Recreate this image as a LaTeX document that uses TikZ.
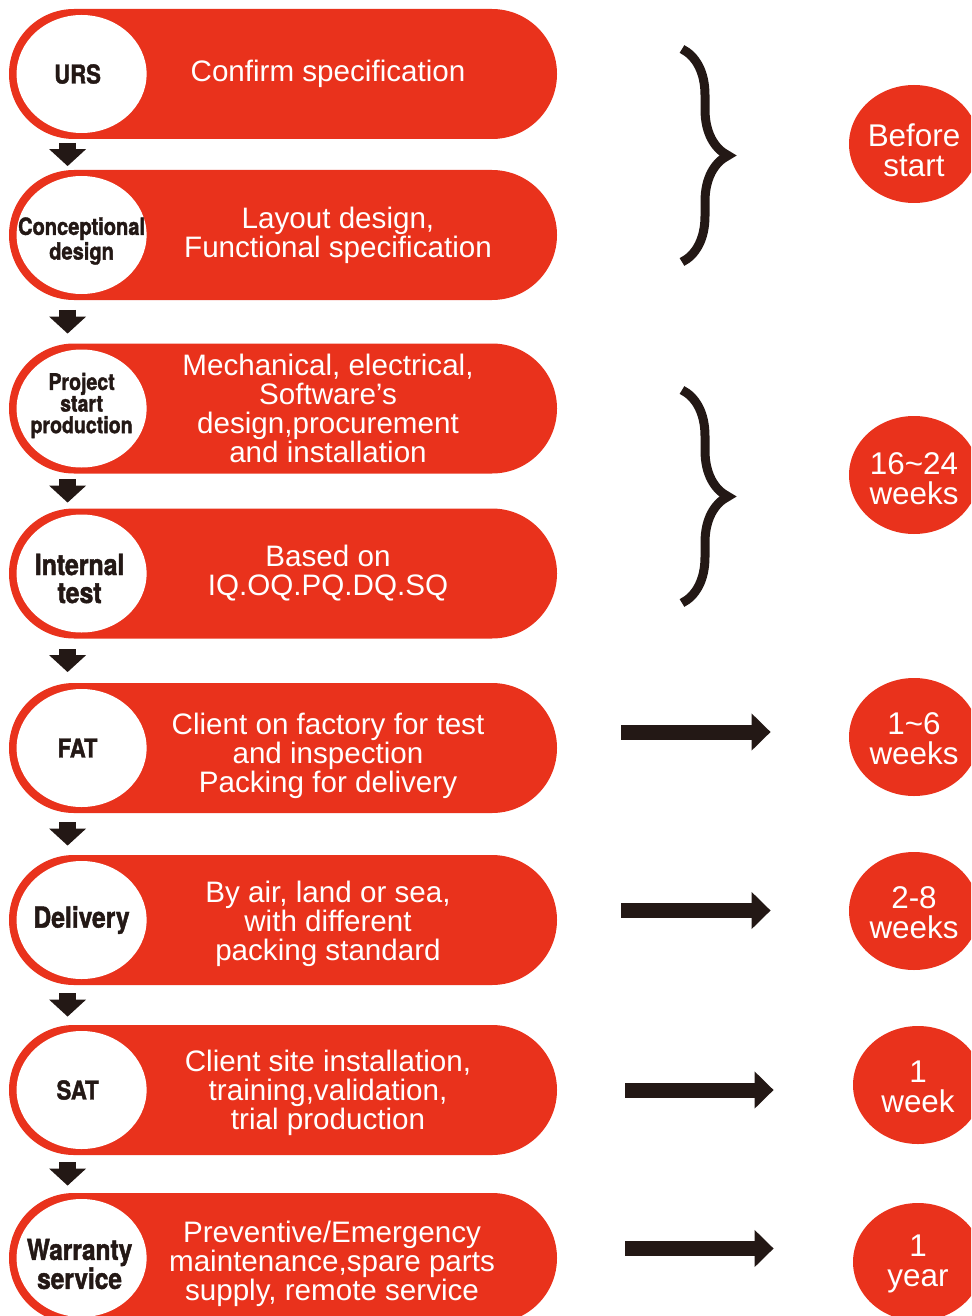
\documentclass[tikz,border=0pt]{standalone}
\usepackage{fontspec}
\setmainfont{Liberation Sans}
\newfontfamily\lblfont{TeX Gyre Heros}[FakeStretch=0.85,FakeBold=1.5]
\usetikzlibrary{positioning,shapes.misc,shapes.geometric,arrows.meta,decorations.pathreplacing}
\definecolor{urred}{RGB}{233,50,28}
\definecolor{ink}{RGB}{35,24,21}

\begin{document}
\begin{tikzpicture}[x=0.5pt,y=-0.5pt,on grid,
  pill/.style={rounded rectangle,fill=urred,minimum width=274pt,minimum height=65pt,inner sep=0pt},
  badge/.style={ellipse,fill=white,minimum width=65pt,minimum height=59pt,inner sep=0pt},
  lbl/.style 2 args={text=ink,align=center,inner sep=0pt,font=\lblfont\bfseries\fontsize{#1}{#2}\selectfont},
  desc/.style={text=white,align=center,font=\fontsize{14.8}{14.5}\selectfont},
  span/.style={ellipse,fill=urred,minimum width=65pt,minimum height=59pt,inner sep=0pt},
  spantext/.style={text=white,align=center,inner sep=0pt,font=\fontsize{15.7}{15}\selectfont},
  godown/.style={draw=ink,line width=8.5pt,-{Triangle[width=18pt,length=8.5pt]},shorten <=#1,shorten >=#1},
  goright/.style={draw=ink,line width=7.5pt,-{Triangle[width=18pt,length=9.5pt]}},
  curly/.style={draw=ink,line width=4.5pt,decorate,decoration={brace,amplitude=23pt}}]
 \path[use as bounding box] (0,0) rectangle (971,1316);
 \clip (0,0) rectangle (971,1316);

 % steps
 \node[pill] (P1) at (283,74) {};
 \node[pill] (P2) [below=80.5pt of P1] {};
 \node[pill] (P3) [below=86.75pt of P2] {};
 \node[pill] (P4) [below=82.5pt of P3] {};
 \node[pill] (P5) [below=87.25pt of P4] {};
 \node[pill] (P6) [below=86pt of P5] {};
 \node[pill] (P7) [below=85pt of P6] {};
 \node[pill] (P8) [below=84pt of P7] {};

 \node[badge] (C1) at ([xshift=36.5pt]P1.west) {};
 \node[badge] (C2) at ([xshift=36.5pt]P2.west) {};
 \node[badge] (C3) at ([xshift=36.5pt]P3.west) {};
 \node[badge] (C4) at ([xshift=36.5pt]P4.west) {};
 \node[badge] (C5) at ([xshift=36.5pt]P5.west) {};
 \node[badge] (C6) at ([xshift=36.5pt]P6.west) {};
 \node[badge] (C7) at ([xshift=36.5pt]P7.west) {};
 \node[badge] (C8) at ([xshift=36.5pt]P8.west) {};

 \node[lbl={13}{14}] (L1) at ([xshift=-2pt]C1) {URS};
 \node[lbl={11.8}{11}] (L2) at ([yshift=-3pt]C2) {Conceptional\\design};
 \node[lbl={11.5}{10.8}] (L3) at ([yshift=1.5pt]C3) {Project\\start\\production};
 \node[lbl={14.6}{14}] (L4) at ([xshift=-1pt,yshift=-2.5pt]C4) {Internal\\test};
 \node[lbl={13}{14}] (L5) at ([xshift=-2pt]C5) {FAT};
 \node[lbl={14.5}{14}] (L6) at (C6) {Delivery};
 \node[lbl={13}{14}] (L7) at ([xshift=-2pt]C7) {SAT};
 \node[lbl={14.4}{14.5}] (L8) at ([xshift=-1pt,yshift=-3pt]C8) {Warranty\\service};

 \node[desc] (D1) [right=22.5pt of P1] {Confirm specification};
 \node[desc] (D2) [right=27.5pt of P2] {Layout design,\\Functional specification};
 \node[desc] (D3) [right=22.5pt of P3] {Mechanical, electrical,\\Software's\\design,procurement\\and installation};
 \node[desc] (D4) [right=22.5pt of P4] {Based on\\IQ.OQ.PQ.DQ.SQ};
 \node[desc] (D5) [below right=4pt and 22.5pt of P5] {Client on factory for test\\and inspection\\Packing for delivery};
 \node[desc] (D6) [below right=2pt and 22.5pt of P6] {By air, land or sea,\\with different\\packing standard};
 \node[desc] (D7) [below right=1.5pt and 22.5pt of P7] {Client site installation,\\training,validation,\\trial production};
 \node[desc] (D8) [below right=3pt and 24.5pt of P8] {Preventive/Emergency\\maintenance,spare parts\\supply, remote service};

 \draw[godown=1.75pt] ([xshift=-7pt]C1.south |- P1.south) -- ([xshift=-7pt]C2.north |- P2.north);
 \draw[godown=4.75pt] ([xshift=-7pt]C2.south |- P2.south) -- ([xshift=-7pt]C3.north |- P3.north);
 \draw[godown=2.75pt] ([xshift=-7pt]C3.south |- P3.south) -- ([xshift=-7pt]C4.north |- P4.north);
 \draw[godown=5.25pt] ([xshift=-7pt]C4.south |- P4.south) -- ([xshift=-7pt]C5.north |- P5.north);
 \draw[godown=4.5pt] ([xshift=-7pt]C5.south |- P5.south) -- ([xshift=-7pt]C6.north |- P6.north);
 \draw[godown=4pt] ([xshift=-7pt]C6.south |- P6.south) -- ([xshift=-7pt]C7.north |- P7.north);
 \draw[godown=3.5pt] ([xshift=-7pt]C7.south |- P7.south) -- ([xshift=-7pt]C8.north |- P8.north);

 % time spans
 \node[span] (T1) at (914,144) {};
 \node[span] (T2) at (914,475) {};
 \node[span] (T3) at (914,737) {};
 \node[span] (T4) at (914,911) {};
 \node[span] (T5) at (918,1085) {};
 \node[span] (T6) at (918,1262) {};
 \node[spantext] (S1) at ([yshift=-3pt]T1) {Before\\start};
 \node[spantext] (S2) at ([yshift=-2pt]T2) {16\textasciitilde 24\\weeks};
 \node[spantext] (S3) at ([yshift=-1pt]T3) {1\textasciitilde 6\\weeks};
 \node[spantext] (S4) at ([yshift=-1pt]T4) {2-8\\weeks};
 \node[spantext] (S5) at ([yshift=-1pt]T5) {1\\week};
 \node[spantext] (S6) at ([yshift=-1pt]T6) {1\\year};

 \coordinate (B1top) at (682,49);
 \coordinate (B1bot) at (682,262);
 \coordinate (B2top) at (682,390);
 \coordinate (B2bot) at (682,603);
 \draw[curly] (B1top) -- (B1bot);
 \draw[curly] (B2top) -- (B2bot);

 \draw[goright,shorten <=32pt,shorten >=39pt] ([yshift=8pt]P5.east) -- ([yshift=8pt]P5.east -| T3.west);
 \draw[goright,shorten <=32pt,shorten >=39pt] ([yshift=4.75pt]P6.east) -- ([yshift=4.75pt]P6.east -| T4.west);
 \draw[goright,shorten <=34pt,shorten >=39.5pt] (P7.east) -- (P7.east -| T5.west);
 \draw[goright,shorten <=34pt,shorten >=39.5pt] ([yshift=4.75pt]P8.east) -- ([yshift=4.75pt]P8.east -| T6.west);
\end{tikzpicture}
\end{document}
